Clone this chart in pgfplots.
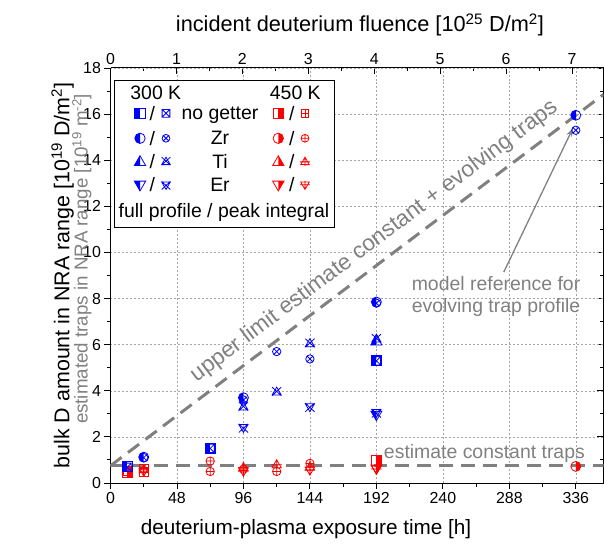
\documentclass[border=0pt]{standalone}
\usepackage{fontspec}
\setmainfont{Liberation Sans}
\usepackage{pgfplots}
\pgfplotsset{compat=1.18}
\usetikzlibrary{arrows.meta}

% ---------- custom marks ----------
\newcommand{\mr}{\pgfplotmarksize}
\newcommand{\sqpath}{\pgfpathrectangle{\pgfpoint{-\mr}{-\mr}}{\pgfpoint{2\mr}{2\mr}}}
\newcommand{\triup}{\pgfpathmoveto{\pgfpoint{0pt}{1.15\mr}}\pgfpathlineto{\pgfpoint{-1.1\mr}{-0.75\mr}}\pgfpathlineto{\pgfpoint{1.1\mr}{-0.75\mr}}\pgfpathclose}
\newcommand{\tridn}{\pgfpathmoveto{\pgfpoint{0pt}{-1.15\mr}}\pgfpathlineto{\pgfpoint{-1.1\mr}{0.75\mr}}\pgfpathlineto{\pgfpoint{1.1\mr}{0.75\mr}}\pgfpathclose}
\newcommand{\seg}[4]{\pgfpathmoveto{\pgfpoint{#1}{#2}}\pgfpathlineto{\pgfpoint{#3}{#4}}}

\pgfdeclareplotmark{hsqL}{\pgfpathrectangle{\pgfpoint{-\mr}{-\mr}}{\pgfpoint{\mr}{2\mr}}\pgfusepathqfill\sqpath\pgfusepathqstroke}
\pgfdeclareplotmark{hsqR}{\pgfpathrectangle{\pgfpoint{0pt}{-\mr}}{\pgfpoint{\mr}{2\mr}}\pgfusepathqfill\sqpath\pgfusepathqstroke}
\pgfdeclareplotmark{hcL}{\pgfpathmoveto{\pgfpoint{0pt}{\mr}}\pgfpatharc{90}{270}{\mr}\pgfpathclose\pgfusepathqfill\pgfpathcircle{\pgfpointorigin}{\mr}\pgfusepathqstroke}
\pgfdeclareplotmark{hcR}{\pgfpathmoveto{\pgfpoint{0pt}{-\mr}}\pgfpatharc{-90}{90}{\mr}\pgfpathclose\pgfusepathqfill\pgfpathcircle{\pgfpointorigin}{\mr}\pgfusepathqstroke}
\pgfdeclareplotmark{htL}{\pgfpathmoveto{\pgfpoint{0pt}{1.15\mr}}\pgfpathlineto{\pgfpoint{-1.1\mr}{-0.75\mr}}\pgfpathlineto{\pgfpoint{0pt}{-0.75\mr}}\pgfpathclose\pgfusepathqfill\triup\pgfusepathqstroke}
\pgfdeclareplotmark{htR}{\pgfpathmoveto{\pgfpoint{0pt}{1.15\mr}}\pgfpathlineto{\pgfpoint{1.1\mr}{-0.75\mr}}\pgfpathlineto{\pgfpoint{0pt}{-0.75\mr}}\pgfpathclose\pgfusepathqfill\triup\pgfusepathqstroke}
\pgfdeclareplotmark{hdL}{\pgfpathmoveto{\pgfpoint{0pt}{-1.15\mr}}\pgfpathlineto{\pgfpoint{-1.1\mr}{0.75\mr}}\pgfpathlineto{\pgfpoint{0pt}{0.75\mr}}\pgfpathclose\pgfusepathqfill\tridn\pgfusepathqstroke}
\pgfdeclareplotmark{hdR}{\pgfpathmoveto{\pgfpoint{0pt}{-1.15\mr}}\pgfpathlineto{\pgfpoint{1.1\mr}{0.75\mr}}\pgfpathlineto{\pgfpoint{0pt}{0.75\mr}}\pgfpathclose\pgfusepathqfill\tridn\pgfusepathqstroke}
\pgfdeclareplotmark{sqX}{\sqpath\seg{-\mr}{-\mr}{\mr}{\mr}\seg{-\mr}{\mr}{\mr}{-\mr}\pgfusepathqstroke}
\pgfdeclareplotmark{sqP}{\sqpath\seg{0pt}{-\mr}{0pt}{\mr}\seg{-\mr}{0pt}{\mr}{0pt}\pgfusepathqstroke}
\pgfdeclareplotmark{cX}{\pgfpathcircle{\pgfpointorigin}{\mr}\seg{-0.707\mr}{-0.707\mr}{0.707\mr}{0.707\mr}\seg{-0.707\mr}{0.707\mr}{0.707\mr}{-0.707\mr}\pgfusepathqstroke}
\pgfdeclareplotmark{cP}{\pgfpathcircle{\pgfpointorigin}{\mr}\seg{0pt}{-\mr}{0pt}{\mr}\seg{-\mr}{0pt}{\mr}{0pt}\pgfusepathqstroke}
\pgfdeclareplotmark{tX}{\triup\seg{-1.1\mr}{-0.9\mr}{1.1\mr}{1.15\mr}\seg{-1.1\mr}{1.15\mr}{1.1\mr}{-0.9\mr}\pgfusepathqstroke}
\pgfdeclareplotmark{tP}{\triup\seg{0pt}{-1.05\mr}{0pt}{1.3\mr}\seg{-1.25\mr}{-0.05\mr}{1.25\mr}{-0.05\mr}\pgfusepathqstroke}
\pgfdeclareplotmark{dX}{\tridn\seg{-1.1\mr}{0.9\mr}{1.1\mr}{-1.15\mr}\seg{-1.1\mr}{-1.15\mr}{1.1\mr}{0.9\mr}\pgfusepathqstroke}
\pgfdeclareplotmark{dP}{\tridn\seg{0pt}{1.05\mr}{0pt}{-1.3\mr}\seg{-1.25\mr}{0.05\mr}{1.25\mr}{0.05\mr}\pgfusepathqstroke}

% legend mark: {x}{y}{colour}{size}{mark}
\newcommand{\LM}[5]{\begin{scope}[shift={(#1,#2)}]\pgfsetlinewidth{0.8pt}\pgfsetstrokecolor{#3}\pgfsetfillcolor{#3}\pgfsetplotmarksize{#4}\pgfuseplotmark{#5}\end{scope}}
% legend row: {y}{mark full}{mark peak}{text}{red full}{red peak}
\newcommand{\LR}[6]{%
  \LM{26}{#1}{blue}{5.2pt}{#2}\node[anchor=base] at (38.3,#1-6.8) {/};\LM{52}{#1}{blue}{3.9pt}{#3}%
  \node[anchor=base] at (106,#1-6.6) {#4};%
  \LM{164.3}{#1}{red}{5.2pt}{#5}\node[anchor=base] at (177.7,#1-6.8) {/};\LM{191}{#1}{red}{3.9pt}{#6}}

\begin{document}
\begin{tikzpicture}
\pgfplotsset{
  every axis/.append style={
    scale only axis, width=493bp, height=415bp,
    ymin=0, ymax=18,
    axis line style={line width=1pt},
    tick style={black, line width=0.9pt},
    major tick length=6bp, minor tick length=3.5bp,
    tick label style={font=\fontsize{16}{18}\selectfont},
    /pgf/number format/assume math mode=true,
  }
}
% ---------- top / right axis ----------
\begin{axis}[
  xmin=0, xmax=7.477,
  axis x line*=top, axis y line*=right,
  tick align=inside,
  xtick={0,1,...,7}, minor x tick num=1,
  ytick={0,2,...,18}, minor y tick num=1, yticklabels={},
  xlabel={incident deuterium fluence [10\textsuperscript{25} D/m\textsuperscript{2}]},
  xlabel style={at={(axis description cs:0.506,1.104)}, anchor=center, font=\fontsize{21.8}{24}\selectfont},
]
\addplot[draw=none] coordinates {(0,0)};
\end{axis}
% ---------- main axis ----------
\begin{axis}[
  xmin=0, xmax=356,
  axis x line*=bottom, axis y line*=left,
  tick align=outside,
  xtick={0,48,...,336}, minor x tick num=1,
  ytick={0,2,...,18}, minor y tick num=1,
  grid=major,
  major grid style={gray!70, line width=0.5pt, dash pattern=on 2pt off 2pt},
  xlabel={deuterium-plasma exposure time [h]},
  xlabel style={at={(axis description cs:0.3966,-0.11)}, anchor=center, font=\fontsize{20.8}{24}\selectfont},
  ylabel={bulk D amount in NRA range [10\textsuperscript{19} D/m\textsuperscript{2}]},
  ylabel style={at={(axis description cs:-0.097,0.5)}, anchor=center, font=\fontsize{21.5}{24}\selectfont},
  mark options={solid, line width=0.8pt},
]
\coordinate (SW) at (rel axis cs:0,0);
\coordinate (NE) at (rel axis cs:1,1);
\coordinate (GL) at (axis description cs:-0.058,0.54);
\coordinate (LG) at ([shift={(3.5bp,-12bp)}]rel axis cs:0,1);
% 450 K (red)
\addplot[only marks, red, mark=hsqR, mark size=5pt] coordinates {(12,0.45) (192,0.97)};
\addplot[only marks, red, mark=sqP, mark size=4.2pt] coordinates {(12,0.52) (24,0.62) (24,0.48)};
\addplot[only marks, red, mark=hcR, mark size=5pt] coordinates {(336,0.72)};
\addplot[only marks, red, mark=cP, mark size=4.2pt] coordinates {(72,0.95) (72,0.5) (96,0.6) (120,0.5) (144,0.85)};
\addplot[only marks, red, mark=tP, mark size=4.2pt] coordinates {(24,0.58) (96,0.68) (120,0.8) (144,0.7)};
\addplot[only marks, red, mark=hdR, mark size=5pt] coordinates {(192,0.62)};
\addplot[only marks, red, mark=dP, mark size=4.2pt] coordinates {(24,0.5) (96,0.5) (144,0.55) (192,0.6)};
% 300 K (blue)
\addplot[only marks, blue, mark=hsqL, mark size=5pt] coordinates {(12,0.72) (72,1.52) (192,5.3)};
\addplot[only marks, blue, mark=sqX, mark size=4.2pt] coordinates {(12,0.68) (72,1.5) (192,5.3)};
\addplot[only marks, blue, mark=hcL, mark size=5pt] coordinates {(24,1.12) (96,3.7) (192,7.85) (336,15.95)};
\addplot[only marks, blue, mark=cX, mark size=4.2pt] coordinates {(24,1.1) (96,3.6) (120,5.7) (144,5.38) (192,7.8) (336,15.3)};
\addplot[only marks, blue, mark=htL, mark size=5pt] coordinates {(192,6.15)};
\addplot[only marks, blue, mark=tX, mark size=4.2pt] coordinates {(96,3.3) (120,3.95) (144,6.05) (192,6.25)};
\addplot[only marks, blue, mark=hdL, mark size=5pt] coordinates {(192,2.95)};
\addplot[only marks, blue, mark=dX, mark size=4.2pt] coordinates {(96,2.4) (144,3.3) (192,3.05)};
% estimate lines
\addplot[gray, line width=3pt, dash pattern=on 14pt off 8pt] coordinates {(0,0.75) (356,0.75)};
\addplot[gray, line width=3pt, dash pattern=on 14pt off 8pt] coordinates {(0,0.75) (356,16.85)}
  node[pos=0.56, sloped, above=5.2pt, text=gray, font=\fontsize{22.7}{26}\selectfont] {upper limit estimate constant + evolving traps};
\node[text=gray, font=\fontsize{19.5}{22}\selectfont] at (axis cs:270,1.3) {estimate constant traps};
\node[text=gray, align=center, font=\fontsize{19.5}{23}\selectfont] at (axis cs:278.4,8.09) {model reference for\\evolving trap profile};
\draw[gray, line width=1.3pt, -{Stealth[length=9pt,width=6pt]}] (axis cs:284,9.15) -- (axis cs:334,15.4);
\end{axis}
% gray second y label
\node[rotate=90, text=gray, font=\fontsize{18.8}{22}\selectfont] at (GL) {estimated traps in NRA range [10\textsuperscript{19} m\textsuperscript{-2}]};
% legend
\begin{scope}[shift={(LG)}, x=1bp, y=1bp, font=\fontsize{19.5}{22}\selectfont, inner sep=0pt]
  \draw[line width=0.8pt, fill=white] (0,0) rectangle (220,-147);
  \node[anchor=base] at (41.8,-19.7) {300 K};
  \node[anchor=base] at (181.3,-19.7) {450 K};
  \LR{-33.3}{hsqL}{sqX}{no getter}{hsqR}{sqP}
  \LR{-58.3}{hcL}{cX}{Zr}{hcR}{cP}
  \LR{-81.7}{htL}{tX}{Ti}{htR}{tP}
  \LR{-105}{hdL}{dX}{Er}{hdR}{dP}
  \node[anchor=base] at (110,-137.7) {full profile / peak integral};
\end{scope}
\pgfresetboundingbox
\path ([shift={(-110.5bp,-69bp)}]SW) rectangle ([shift={(0.5bp,68bp)}]NE);
\end{tikzpicture}
\end{document}
